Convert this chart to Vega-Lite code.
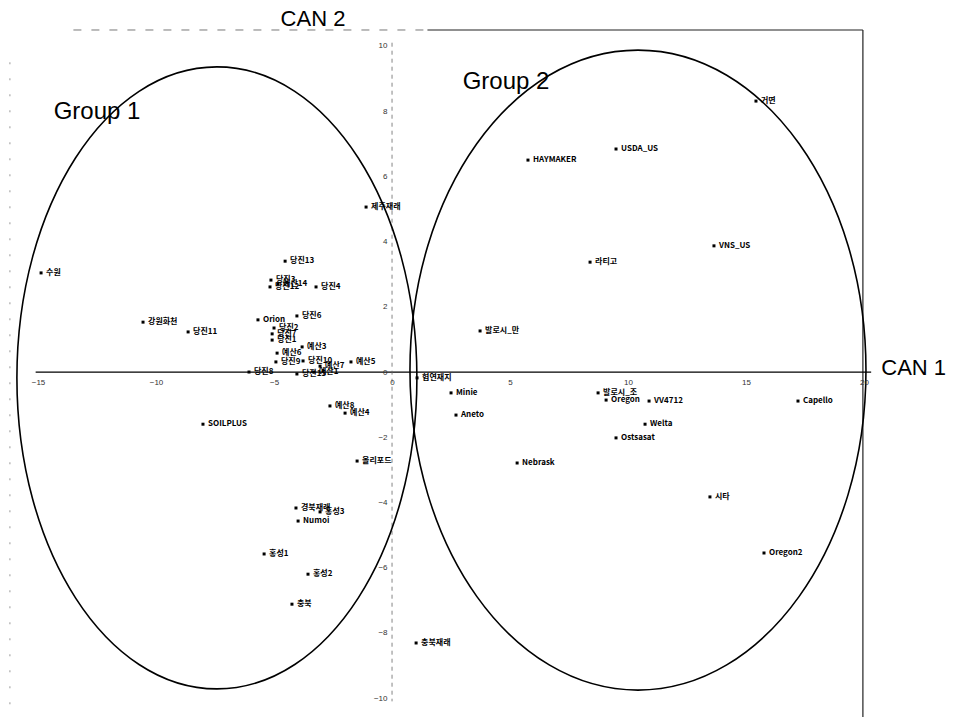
{
  "$schema": "https://vega.github.io/schema/vega-lite/v6.json",
  "width": 954,
  "height": 717,
  "padding": 0,
  "autosize": {"type": "none"},
  "background": "white",
  "config": {"view": {"stroke": null}},
  "datasets": {
    "pts": [
      {"name": "수원", "x": -14.87, "y": 3.04},
      {"name": "강원화천", "x": -10.55, "y": 1.53},
      {"name": "당진11", "x": -8.64, "y": 1.23},
      {"name": "SOILPLUS", "x": -8.01, "y": -1.6},
      {"name": "당진13", "x": -4.53, "y": 3.4},
      {"name": "당진3", "x": -5.13, "y": 2.82},
      {"name": "예산14", "x": -4.83, "y": 2.7},
      {"name": "당진12", "x": -5.17, "y": 2.61},
      {"name": "당진4", "x": -3.22, "y": 2.61},
      {"name": "Orion", "x": -5.68, "y": 1.6},
      {"name": "당진6", "x": -4.03, "y": 1.72},
      {"name": "당진2", "x": -5.0, "y": 1.35},
      {"name": "당진7", "x": -5.08, "y": 1.17},
      {"name": "당진1", "x": -5.08, "y": 0.98},
      {"name": "예산3", "x": -3.81, "y": 0.77},
      {"name": "예산6", "x": -4.87, "y": 0.58},
      {"name": "당진9", "x": -4.92, "y": 0.31},
      {"name": "당진10", "x": -3.77, "y": 0.34},
      {"name": "예산7", "x": -3.05, "y": 0.18},
      {"name": "예산5", "x": -1.74, "y": 0.31},
      {"name": "당진8", "x": -6.06, "y": 0.0},
      {"name": "당진15", "x": -4.03, "y": -0.06},
      {"name": "예산1", "x": -3.31, "y": 0.0},
      {"name": "예산8", "x": -2.63, "y": -1.04},
      {"name": "예산4", "x": -1.99, "y": -1.26},
      {"name": "올리포드", "x": -1.48, "y": -2.73},
      {"name": "제주재래", "x": -1.1, "y": 5.06},
      {"name": "경북재래", "x": -4.07, "y": -4.17},
      {"name": "홍성3", "x": -3.05, "y": -4.29},
      {"name": "Numoi", "x": -3.98, "y": -4.57},
      {"name": "홍성1", "x": -5.42, "y": -5.58},
      {"name": "홍성2", "x": -3.56, "y": -6.2},
      {"name": "충북", "x": -4.24, "y": -7.12},
      {"name": "충북재래", "x": 1.02, "y": -8.31},
      {"name": "협연재지", "x": 1.06, "y": -0.18},
      {"name": "Minie", "x": 2.5, "y": -0.64},
      {"name": "Aneto", "x": 2.71, "y": -1.32},
      {"name": "Nebrask", "x": 5.3, "y": -2.79},
      {"name": "발로시_만", "x": 3.73, "y": 1.26},
      {"name": "발로시_조", "x": 8.73, "y": -0.64},
      {"name": "Oregon", "x": 9.07, "y": -0.86},
      {"name": "VV4712", "x": 10.89, "y": -0.89},
      {"name": "Capello", "x": 17.2, "y": -0.89},
      {"name": "Welta", "x": 10.72, "y": -1.6},
      {"name": "Ostsasat", "x": 9.49, "y": -2.02},
      {"name": "시타", "x": 13.47, "y": -3.83},
      {"name": "Oregon2", "x": 15.76, "y": -5.55},
      {"name": "거면", "x": 15.42, "y": 8.31},
      {"name": "USDA_US", "x": 9.49, "y": 6.84},
      {"name": "HAYMAKER", "x": 5.76, "y": 6.5},
      {"name": "라티고", "x": 8.39, "y": 3.37},
      {"name": "VNS_US", "x": 13.64, "y": 3.87}
    ],
    "ellipses": [
      {"group": "Group 1", "cx": -7.42, "cy": -0.18},
      {"group": "Group 2", "cx": 10.42, "cy": 0.06}
    ],
    "groupLabels": [
      {"label": "Group 1", "x": -12.5, "y": 7.98},
      {"label": "Group 2", "x": 4.83, "y": 8.9}
    ],
    "axisTitles": [
      {"label": "CAN 1", "x": 22.1, "y": 0.12},
      {"label": "CAN 2", "x": -3.35, "y": 10.83}
    ],
    "one": [{}]
  },
  "encoding": {
    "x": {"type": "quantitative", "scale": {"domain": [-16.61, 23.81], "nice": false, "zero": false}},
    "y": {"type": "quantitative", "scale": {"domain": [-10.58, 11.41], "nice": false, "zero": false}}
  },
  "layer": [
    {
      "data": {"name": "one"},
      "mark": {"type": "rule", "color": "#777", "strokeWidth": 1, "strokeDash": [8, 10]},
      "encoding": {"x": {"datum": -13.5, "type": "quantitative"}, "x2": {"datum": 1.5}, "y": {"datum": 10.49, "type": "quantitative"}}
    },
    {
      "data": {"name": "one"},
      "mark": {"type": "rule", "color": "#222", "strokeWidth": 1.2},
      "encoding": {"x": {"datum": 1.5, "type": "quantitative"}, "x2": {"datum": 19.95}, "y": {"datum": 10.49, "type": "quantitative"}}
    },
    {
      "data": {"name": "one"},
      "mark": {"type": "rule", "color": "#222", "strokeWidth": 1.2},
      "encoding": {"x": {"datum": 19.95, "type": "quantitative"}, "y": {"datum": 10.49, "type": "quantitative"}, "y2": {"datum": -10.58}}
    },
    {
      "data": {"name": "one"},
      "mark": {"type": "rule", "color": "#999", "strokeWidth": 1, "strokeDash": [2, 14]},
      "encoding": {"x": {"datum": -16.19, "type": "quantitative"}, "y": {"datum": 9.5, "type": "quantitative"}, "y2": {"datum": -10.58}}
    },
    {
      "data": {"name": "one"},
      "mark": {"type": "rule", "color": "black", "strokeWidth": 1.3},
      "encoding": {"x": {"datum": -15.1, "type": "quantitative"}, "x2": {"datum": 20.3}, "y": {"datum": 0, "type": "quantitative"}}
    },
    {
      "data": {"name": "one"},
      "mark": {"type": "rule", "color": "#666", "strokeWidth": 0.8, "strokeDash": [4, 4]},
      "encoding": {"x": {"datum": 0, "type": "quantitative"}, "y": {"datum": 10.1, "type": "quantitative"}, "y2": {"datum": -10.1}}
    },
    {
      "data": {"name": "ellipses"},
      "mark": {"type": "point", "filled": false, "stroke": "black", "strokeWidth": 1.6, "size": 409600, "opacity": 1},
      "encoding": {
        "x": {"field": "cx", "type": "quantitative",
          "axis": {"orient": "bottom", "offset": -345, "values": [-15, -10, -5, 0, 5, 10, 15, 20], "domain": false, "ticks": false, "grid": false, "title": null, "labelPadding": 6, "labelFontSize": 8, "labelColor": "#333", "labelFont": "Liberation Sans", "zindex": 1}},
        "y": {"field": "cy", "type": "quantitative",
          "axis": {"orient": "left", "offset": -392, "values": [-10, -8, -6, -4, -2, 0, 2, 4, 6, 8, 10], "domain": false, "ticks": false, "grid": false, "title": null, "labelPadding": 5, "labelFontSize": 8, "labelColor": "#333", "labelFont": "Liberation Sans", "zindex": 1}},
        "shape": {"field": "group", "type": "nominal", "legend": null,
          "scale": {"domain": ["Group 1", "Group 2"], "range": ["M-0.625,0A0.625,0.9719,0,1,1,0.625,0A0.625,0.9719,0,1,1,-0.625,0Z", "M-0.7125,0A0.7125,1,0,1,1,0.7125,0A0.7125,1,0,1,1,-0.7125,0Z"]}}
      }
    },
    {
      "data": {"name": "pts"},
      "mark": {"type": "point", "filled": true, "shape": "square", "size": 9, "color": "black", "opacity": 1},
      "encoding": {"x": {"field": "x", "type": "quantitative"}, "y": {"field": "y", "type": "quantitative"}}
    },
    {
      "data": {"name": "pts"},
      "mark": {"type": "text", "align": "left", "baseline": "middle", "dx": 5, "font": "Noto Sans CJK KR", "fontWeight": "bold", "fontSize": 8, "color": "black"},
      "encoding": {"x": {"field": "x", "type": "quantitative"}, "y": {"field": "y", "type": "quantitative"}, "text": {"field": "name"}}
    },
    {
      "data": {"name": "groupLabels"},
      "mark": {"type": "text", "align": "center", "baseline": "middle", "font": "Liberation Sans", "fontSize": 24, "color": "black"},
      "encoding": {"x": {"field": "x", "type": "quantitative"}, "y": {"field": "y", "type": "quantitative"}, "text": {"field": "label"}}
    },
    {
      "data": {"name": "axisTitles"},
      "mark": {"type": "text", "align": "center", "baseline": "middle", "font": "Liberation Sans", "fontSize": 22, "color": "black"},
      "encoding": {"x": {"field": "x", "type": "quantitative"}, "y": {"field": "y", "type": "quantitative"}, "text": {"field": "label"}}
    }
  ]
}
